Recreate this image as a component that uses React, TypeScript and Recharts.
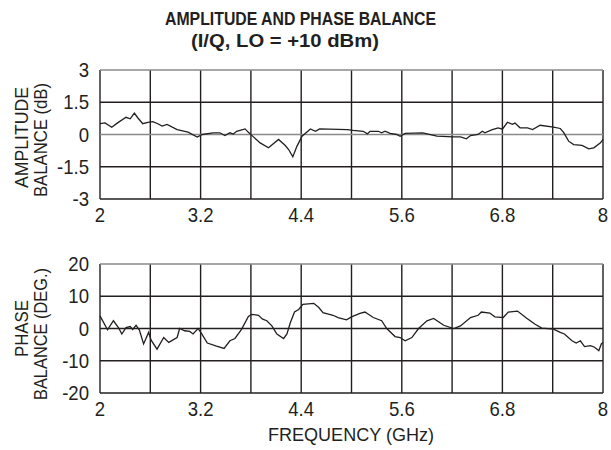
import React from "react";
import {
  CartesianGrid,
  Line,
  LineChart,
  ReferenceLine,
  XAxis,
  YAxis,
} from "recharts";

// frequency in GHz
const ampFreq = [
  2.0, 2.06, 2.14, 2.21, 2.31, 2.36, 2.41, 2.45, 2.51, 2.57, 2.63, 2.69, 2.74, 2.8,
  2.92, 3.05, 3.16, 3.22, 3.35, 3.43, 3.49, 3.55, 3.59, 3.63, 3.73, 3.77, 3.83, 3.91,
  4.01, 4.13, 4.21, 4.25, 4.3, 4.35, 4.41, 4.51, 4.57, 4.62, 4.95, 5.02, 5.14, 5.19,
  5.22, 5.32, 5.36, 5.4, 5.46, 5.54, 5.58, 5.64, 5.85, 6.02, 6.21, 6.3, 6.37, 6.42,
  6.51, 6.56, 6.59, 6.68, 6.75, 6.8, 6.86, 6.92, 6.95, 7.01, 7.1, 7.16, 7.25, 7.41,
  7.49, 7.53, 7.59, 7.65, 7.75, 7.83, 7.89, 7.97, 8.0,
];
// amplitude balance in dB
const ampValue = [
  0.51, 0.54, 0.34, 0.54, 0.8, 0.73, 1.0, 0.78, 0.5, 0.56, 0.6, 0.5, 0.39, 0.47,
  0.23, 0.11, -0.12, 0.0, 0.08, 0.08, -0.05, 0.08, 0.02, 0.15, 0.26, 0.1, -0.11, -0.39,
  -0.62, -0.23, -0.51, -0.7, -1.04, -0.54, -0.08, 0.26, 0.15, 0.26, 0.23, 0.19, 0.15, 0.03,
  0.15, 0.15, 0.08, 0.15, 0.05, 0.0, -0.08, 0.05, 0.08, -0.08, -0.11, -0.11, -0.2, -0.05,
  0.0, 0.15, 0.08, 0.23, 0.31, 0.25, 0.57, 0.47, 0.53, 0.31, 0.31, 0.23, 0.43, 0.34,
  0.28, 0.1, -0.31, -0.47, -0.51, -0.67, -0.62, -0.39, -0.23,
];

const phaseFreq = [
  2.0, 2.09, 2.16, 2.22, 2.26, 2.31, 2.36, 2.39, 2.43, 2.47, 2.52, 2.58, 2.61, 2.68,
  2.76, 2.82, 2.92, 2.95, 3.01, 3.07, 3.11, 3.17, 3.21, 3.28, 3.39, 3.48, 3.55, 3.61,
  3.69, 3.77, 3.81, 3.89, 3.94, 3.99, 4.05, 4.11, 4.19, 4.23, 4.27, 4.32, 4.37, 4.42,
  4.55, 4.61, 4.66, 4.78, 4.84, 4.94, 5.0, 5.1, 5.16, 5.26, 5.36, 5.42, 5.52, 5.58,
  5.64, 5.72, 5.8, 5.9, 5.98, 6.1, 6.22, 6.3, 6.42, 6.51, 6.55, 6.65, 6.71, 6.81,
  6.87, 6.98, 7.09, 7.19, 7.27, 7.41, 7.49, 7.54, 7.63, 7.68, 7.73, 7.78, 7.85, 7.9,
  7.95, 7.98, 8.0,
];
// phase balance in degrees
const phaseValue = [
  3.9, -0.4, 2.4, 0.3, -1.7, 0.3, 0.6, -0.3, 1.0, -0.5, -4.8, -1.2, -3.6, -6.4,
  -2.8, -4.3, -2.8, 0.0, -0.7, -0.9, -1.7, 0.0, -1.5, -4.5, -5.5, -6.2, -3.8, -3.1,
  -0.2, 3.7, 4.4, 4.1, 2.9, 2.4, 0.8, -1.7, -3.1, -1.7, 1.8, 5.1, 5.9, 7.5,
  7.8, 6.5, 4.9, 4.1, 3.4, 2.7, 3.6, 4.7, 5.1, 3.4, 2.4, 0.0, -2.5, -2.8,
  -3.8, -2.8, 0.0, 2.4, 3.1, 1.0, 0.0, 0.8, 3.4, 4.1, 5.1, 4.8, 3.6, 3.4,
  5.1, 5.4, 3.2, 1.3, 0.1, -0.2, -1.2, -1.7, -3.8, -4.5, -3.8, -5.6, -5.3, -5.8,
  -6.9, -4.8, -4.3,
];

const freqTicks = [2, 2.6, 3.2, 3.8, 4.4, 5.0, 5.6, 6.2, 6.8, 7.4, 8];
const freqLabels = ["2", "", "3.2", "", "4.4", "", "5.6", "", "6.8", "", "8"];
const ampTicks = [-3, -1.5, 0, 1.5, 3];
const ampLabels = ["-3", "-1.5", "0", "1.5", "3"];
const phaseTicks = [-20, -10, 0, 10, 20];
const phaseLabels = ["-20", "-10", "0", "10", "20"];

const ampData = ampFreq.map((f, i) => ({ f, v: ampValue[i] }));
const phaseData = phaseFreq.map((f, i) => ({ f, v: phaseValue[i] }));

const FONT = "'Liberation Sans', Arial, Helvetica, sans-serif";
const DARK = "#231f20";
const GRAY = "#8a8a8a";

function makeTick(labels: string[], axis: "x" | "y") {
  return function Tick(props: any) {
    const { x, y, index } = props;
    const text = labels[index] ?? "";
    if (!text) return <g />;
    const tx = axis === "x" ? x : x - 11;
    const ty = axis === "x" ? y + 23 : y + 7;
    return (
      <g transform={`translate(${tx},${ty}) scale(0.93,1)`}>
        <text
          x={0}
          y={0}
          textAnchor={axis === "x" ? "middle" : "end"}
          fontSize={20}
          fontFamily={FONT}
          fill={DARK}
        >
          {text}
        </text>
      </g>
    );
  };
}

const FreqTick = makeTick(freqLabels, "x");
const AmpTick = makeTick(ampLabels, "y");
const PhaseTick = makeTick(phaseLabels, "y");

function Panel({
  data,
  yTicks,
  yTick,
  grayZero,
  height,
  top,
  bottom,
}: {
  data: { f: number; v: number }[];
  yTicks: number[];
  yTick: (p: any) => React.ReactElement;
  grayZero: boolean;
  height: number;
  top: number;
  bottom: number;
}) {
  const lo = yTicks[0];
  const hi = yTicks[yTicks.length - 1];
  return (
    <LineChart
      width={611}
      height={height}
      data={data}
      margin={{ top, right: 8, left: 40, bottom }}
    >
      <CartesianGrid horizontal={false} stroke={DARK} strokeWidth={1.4} />
      <XAxis
        dataKey="f"
        type="number"
        domain={[2, 8]}
        ticks={freqTicks}
        interval={0}
        axisLine={false}
        tickLine={false}
        tickSize={0}
        tickMargin={0}
        height={30}
        tick={FreqTick}
      />
      <YAxis
        type="number"
        domain={[lo, hi]}
        ticks={yTicks}
        interval={0}
        axisLine={false}
        tickLine={false}
        tickSize={0}
        tickMargin={0}
        width={60}
        tick={yTick}
      />
      {yTicks.slice(1, -1).map((t) => (
        <ReferenceLine key={t} y={t} stroke={t === 0 && grayZero ? GRAY : DARK} strokeWidth={1.4} />
      ))}
      <ReferenceLine y={hi} stroke={GRAY} strokeWidth={1.4} />
      <ReferenceLine y={lo} stroke={DARK} strokeWidth={1.4} />
      <Line
        type="linear"
        dataKey="v"
        stroke={DARK}
        strokeWidth={1.3}
        dot={false}
        isAnimationActive={false}
      />
    </LineChart>
  );
}

export default function App() {
  return (
    <div style={{ position: "absolute", left: 0, top: 0, width: 611, height: 450, background: "#fff" }}>
      <div style={{ position: "absolute", left: 0, top: 0 }}>
        <Panel data={ampData} yTicks={ampTicks} yTick={AmpTick} grayZero height={230} top={70} bottom={1} />
      </div>
      <div style={{ position: "absolute", left: 0, top: 230 }}>
        <Panel data={phaseData} yTicks={phaseTicks} yTick={PhaseTick} grayZero={false} height={220} top={34} bottom={27} />
      </div>
      <svg
        width={611}
        height={450}
        style={{ position: "absolute", left: 0, top: 0, pointerEvents: "none" }}
        fontFamily={FONT}
        fill={DARK}
      >
        <text x={165} y={25} fontSize={19} fontWeight="bold" textLength={271} lengthAdjust="spacingAndGlyphs">
          AMPLITUDE AND PHASE BALANCE
        </text>
        <text x={191} y={47} fontSize={19} fontWeight="bold" textLength={188} lengthAdjust="spacingAndGlyphs">
          (I/Q, LO = +10 dBm)
        </text>
        <text transform="translate(28,188) rotate(-90)" fontSize={18} textLength={101} lengthAdjust="spacingAndGlyphs">
          AMPLITUDE
        </text>
        <text transform="translate(47,197) rotate(-90)" fontSize={18} textLength={114} lengthAdjust="spacingAndGlyphs">
          BALANCE (dB)
        </text>
        <text transform="translate(28,357) rotate(-90)" fontSize={18} textLength={57} lengthAdjust="spacingAndGlyphs">
          PHASE
        </text>
        <text transform="translate(47,400) rotate(-90)" fontSize={18} textLength={132} lengthAdjust="spacingAndGlyphs">
          BALANCE (DEG.)
        </text>
        <text x={268} y={441} fontSize={19} textLength={166} lengthAdjust="spacingAndGlyphs">
          FREQUENCY (GHz)
        </text>
      </svg>
    </div>
  );
}
